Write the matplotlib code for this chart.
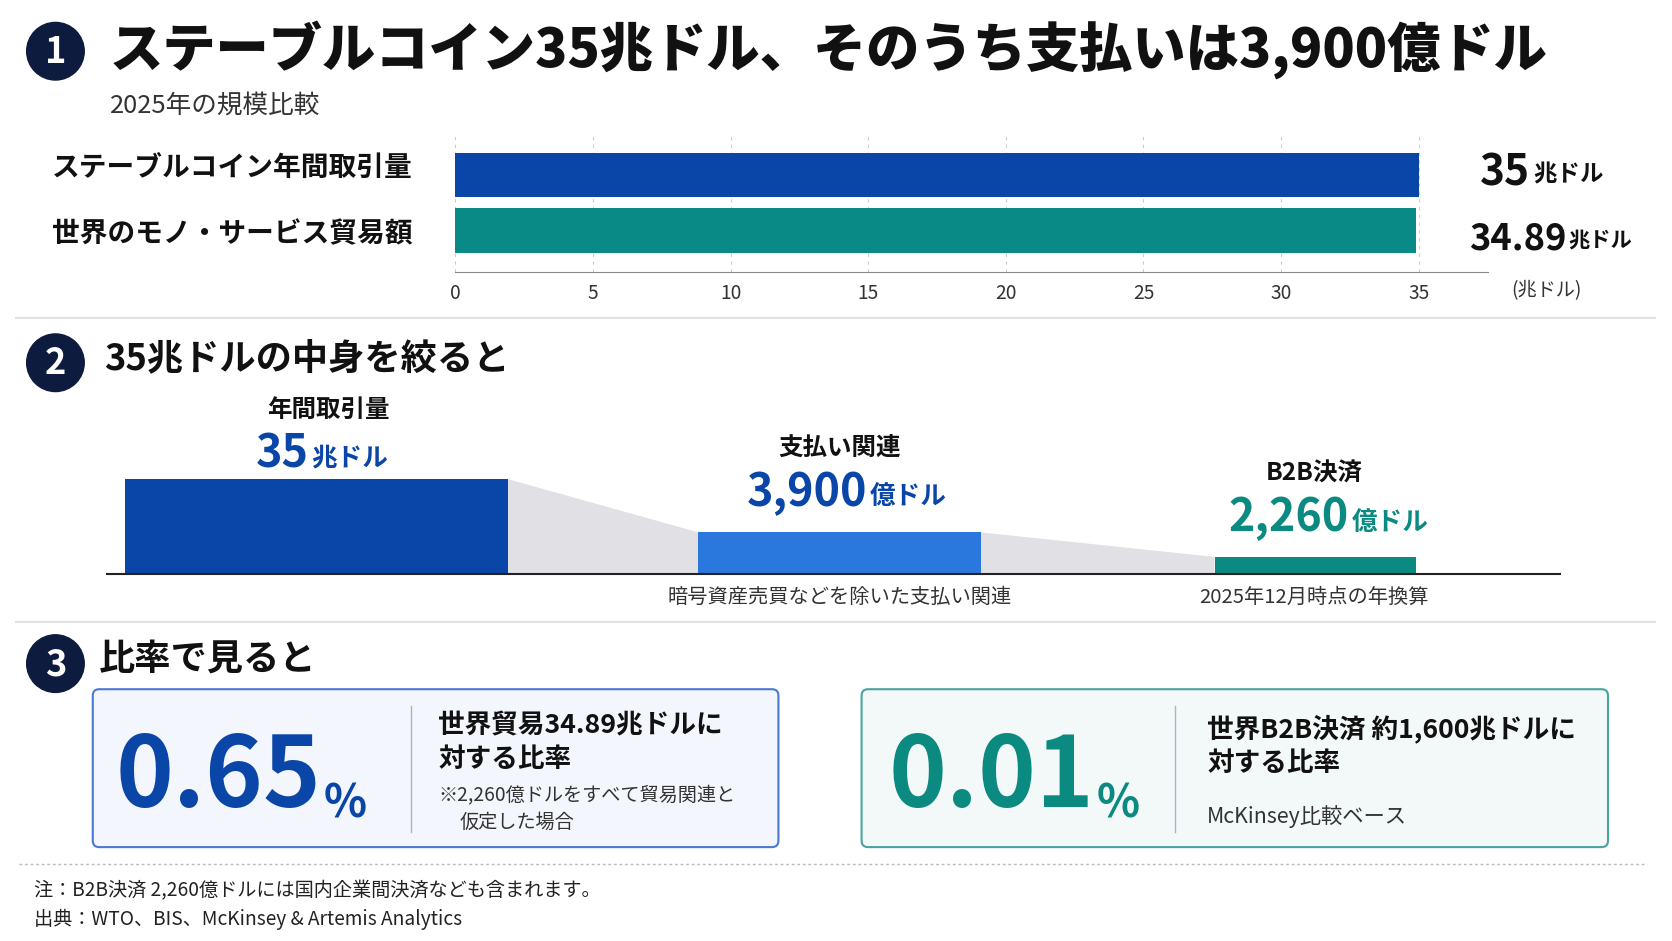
import matplotlib
matplotlib.use("Agg")
import matplotlib.pyplot as plt
from matplotlib.patches import Circle, FancyBboxPatch, Polygon

plt.rcParams['font.family'] = ['Noto Sans CJK JP', 'DejaVu Sans']

# ---- data ----
cmp_labels = ["ステーブルコイン年間取引量", "世界のモノ・サービス貿易額"]
cmp_values = [35, 34.89]
cmp_value_text = ["35", "34.89"]
x_ticks = [0, 5, 10, 15, 20, 25, 30, 35]

funnel_titles = ["年間取引量", "支払い関連", "B2B決済"]
funnel_nums = ["35", "3,900", "2,260"]
funnel_units = ["兆ドル", "億ドル", "億ドル"]
funnel_caps = ["", "暗号資産売買などを除いた支払い関連", "2025年12月時点の年換算"]
funnel_disp_h = [89, 39, 16]  # stylised display heights (not to scale)

ratio_vals = ["0.65", "0.01"]

W, H = 1568, 882
S = 1672 / W
def fs(px):
    return px * S * 0.72

fig = plt.figure(figsize=(16.72, 9.41), dpi=100)
fig.patch.set_facecolor("white")
ov = fig.add_axes([0, 0, 1, 1])
ov.set_xlim(0, W); ov.set_ylim(H, 0); ov.axis("off")

NAVY = "#0d1b3e"; BLUE = "#0a45a8"; BLUE2 = "#2a78de"; TEAL = "#0a8a80"; DARK = "#111111"

def badge(y, n):
    ov.add_patch(Circle((52, y), 27, color=NAVY, zorder=3))
    ov.text(52, y + 1, n, color="white", fontsize=fs(34), fontweight="bold", ha="center", va="center", zorder=4)

def suffix(t, s, size, color, weight="bold", dx=3, dy=0):
    return ov.annotate(s, xy=(1, 0), xycoords=t, xytext=(dx, dy), textcoords="offset points",
                       fontsize=size, fontweight=weight, color=color, ha="left", va="bottom")

# Section 1
badge(48, "1")
ov.text(103, 46, "ステーブルコイン35兆ドル、そのうち支払いは3,900億ドル", fontsize=fs(50), fontweight="black",
        color=DARK, va="center")
ov.text(103, 99, "2025年の規模比較", fontsize=fs(24), color="#333333", va="center")

x0, x1, yt, yb = 427, 1395, 125, 255
ax = fig.add_axes([x0 / W, 1 - yb / H, (x1 - x0) / W, (yb - yt) / H])
ax.patch.set_alpha(0)
ax.set_xlim(0, 37.5); ax.set_ylim(1.75, -0.75)
ax.barh([0, 1], cmp_values, height=0.8, color=[BLUE, "#0a8a86"], zorder=3)
ax.set_xticks(x_ticks)
ax.tick_params(axis="x", length=0, labelsize=fs(18), colors="#333333", pad=8)
ax.set_yticks([])
for s in ["top", "right", "left"]:
    ax.spines[s].set_visible(False)
ax.spines["bottom"].set_color("#888888")
ax.grid(axis="x", color="#cccccc", linestyle=(0, (3, 4)), lw=0.8, zorder=0)
for i, lab in enumerate(cmp_labels):
    ov.text(387, 158 + i * 62, lab, fontsize=fs(26), fontweight="bold", color=DARK, ha="right", va="center")
t = ov.text(1388, 174, cmp_value_text[0], fontsize=fs(40), fontweight="bold", color=DARK, va="baseline")
suffix(t, "兆ドル", fs(22), DARK, dx=2, dy=6)
t = ov.text(1378, 234, cmp_value_text[1], fontsize=fs(34), fontweight="bold", color=DARK, va="baseline")
suffix(t, "兆ドル", fs(20), DARK, dx=1, dy=5)
ov.text(1450, 272, "(兆ドル)", fontsize=fs(18), color="#333333", ha="center", va="center")

ov.plot([15, 1552], [298, 298], color="#e2e2e2", lw=1.5)

# Section 2
badge(340, "2")
ov.text(98, 336, "35兆ドルの中身を絞ると", fontsize=fs(34), fontweight="bold", color=DARK, va="center")
base = 538
lefts = [117, 655, 1139]; widths = [359, 265, 189]
cols = [BLUE, BLUE2, TEAL]
for i in range(2):
    xa = lefts[i] + widths[i]; xb = lefts[i + 1]
    ov.add_patch(Polygon([(xa, base - funnel_disp_h[i]), (xb, base - funnel_disp_h[i + 1]), (xb, base), (xa, base)],
                         closed=True, color="#e1e1e5", lw=0, zorder=1))
ov.bar([l + w / 2 for l, w in zip(lefts, widths)], [-h for h in funnel_disp_h], width=widths, bottom=base,
       color=cols, zorder=2)
ov.plot([100, 1463], [base, base], color="#222222", lw=1.5, zorder=3)
tcent = [308, 787, 1232]
ty = [384, 420, 444]
numcol = [BLUE, BLUE, TEAL]
numx = [240, 700, 1152]
for i in range(3):
    ov.text(tcent[i], ty[i], funnel_titles[i], fontsize=fs(23), fontweight="bold", color=DARK, ha="center", va="center")
    t = ov.text(numx[i], ty[i] + 54, funnel_nums[i], fontsize=fs(42), fontweight="bold", color=numcol[i],
                ha="left", va="baseline")
    suffix(t, funnel_units[i], fs(24), numcol[i], dx=2, dy=4)
    if funnel_caps[i]:
        ov.text(tcent[i], 560, funnel_caps[i], fontsize=fs(19), color="#333333", ha="center", va="center")

ov.plot([15, 1552], [583, 583], color="#e2e2e2", lw=1.5)

# Section 3
badge(622, "3")
ov.text(93, 618, "比率で見ると", fontsize=fs(34), fontweight="bold", color=DARK, va="center")

boxes = [(87, 730, "#f3f6fd", "#4a78d2", BLUE, 385, 108), (808, 1508, "#f3f8f8", "#4aa39d", TEAL, 1102, 833)]
for k, (bx0, bx1, fc, ec, c, dv, nx) in enumerate(boxes):
    ov.add_patch(FancyBboxPatch((bx0, 646), bx1 - bx0, 148, boxstyle="round,pad=0,rounding_size=6",
                                fc=fc, ec=ec, lw=1.5, zorder=1))
    ov.plot([dv, dv], [662, 780], color="#aab4c4", lw=1, zorder=2)
    t = ov.text(nx, 756, ratio_vals[k], fontsize=fs(92), fontweight="bold", color=c,
                va="baseline", ha="left", zorder=3)
    suffix(t, "%", fs(42), c, dx=2, dy=0)
ov.text(411, 680, "世界貿易34.89兆ドルに", fontsize=fs(25), fontweight="bold", color=DARK, va="center")
ov.text(411, 712, "対する比率", fontsize=fs(25), fontweight="bold", color=DARK, va="center")
ov.text(411, 746, "※2,260億ドルをすべて貿易関連と", fontsize=fs(18), color="#333333", va="center")
ov.text(431, 771, "仮定した場合", fontsize=fs(18), color="#333333", va="center")
ov.text(1132, 683, "世界B2B決済 約1,600兆ドルに", fontsize=fs(25), fontweight="bold", color=DARK, va="center")
ov.text(1132, 716, "対する比率", fontsize=fs(25), fontweight="bold", color=DARK, va="center")
ov.text(1132, 765, "McKinsey比較ベース", fontsize=fs(20), color="#333333", va="center")

ov.plot([18, 1545], [810, 810], color="#bbbbbb", lw=1, linestyle=(0, (2, 2)))
ov.text(32, 835, "注：B2B決済 2,260億ドルには国内企業間決済なども含まれます。", fontsize=fs(18), color="#222222", va="center")
ov.text(32, 862, "出典：WTO、BIS、McKinsey & Artemis Analytics", fontsize=fs(18), color="#222222", va="center")

fig.savefig("out.png", dpi=100, facecolor="white")
